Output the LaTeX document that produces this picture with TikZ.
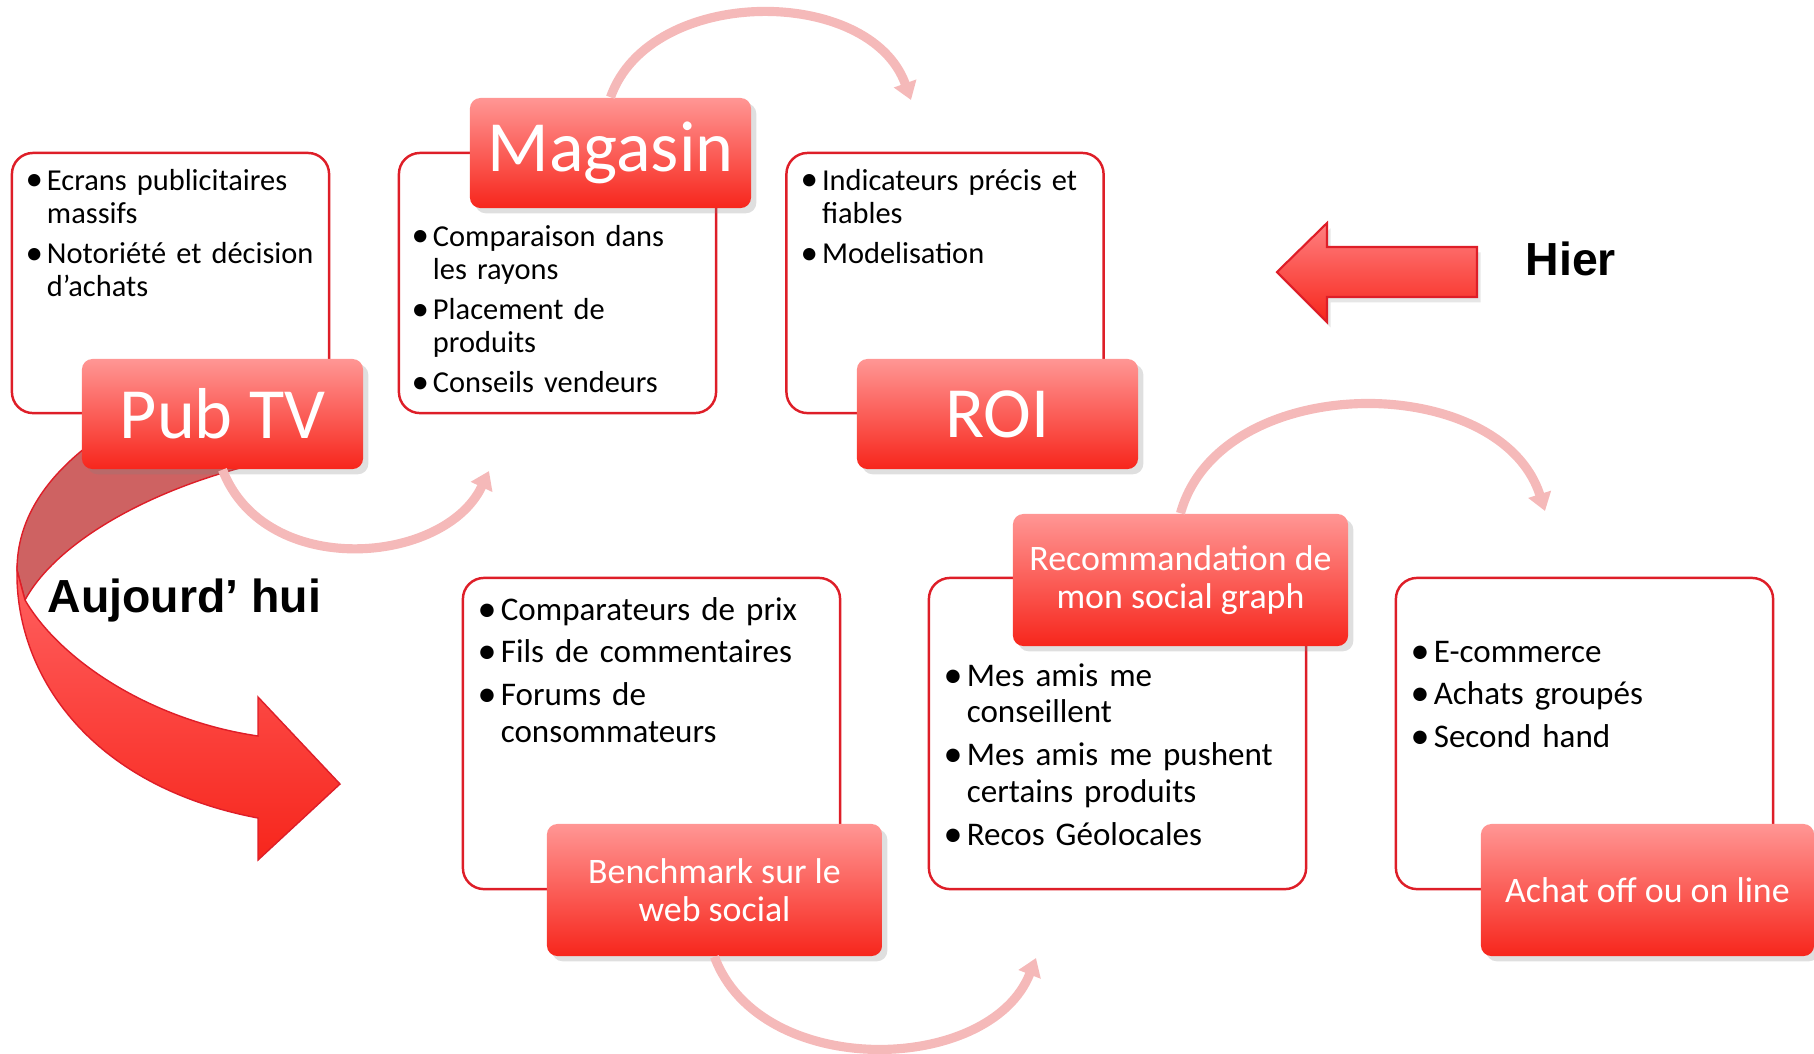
\documentclass[tikz,border=0pt]{standalone}
\usepackage{fontspec}
\setmainfont{Carlito}
\newfontfamily\arialfont{Liberation Sans}
\usetikzlibrary{arrows.meta,shadows}
\definecolor{rougecadre}{RGB}{222,30,40}
\definecolor{haut}{RGB}{255,150,148}
\definecolor{bas}{RGB}{247,38,28}
\definecolor{rose}{RGB}{245,185,185}
\definecolor{revers}{RGB}{206,98,98}
\definecolor{rubanhaut}{RGB}{255,96,96}
\newcommand\puce{\makebox[0.7em][l]{\raisebox{-0.03em}{\scalebox{1.15}{•}}}}
\newcommand\suite{\hspace*{0.7em}}
\begin{document}
\begin{tikzpicture}[x=0.01cm,y=-0.01cm,
    boite/.style={draw=rougecadre,line width=0.7pt,rounded corners=6pt,minimum width=3.17cm,minimum height=2.6cm},
    boiteb/.style={boite,minimum width=3.77cm,minimum height=3.11cm},
    titre/.style={rounded corners=3pt,top color=haut,bottom color=bas,text=white,minimum width=2.81cm,minimum height=1.1cm,
        font=\fontsize{20.5}{24}\selectfont,drop shadow={opacity=0.25,shadow xshift=1.5pt,shadow yshift=-1.5pt}},
    titreb/.style={titre,minimum width=3.35cm,minimum height=1.32cm,align=center,font=\fontsize{10.2}{11}\selectfont},
    pucesh/.style={anchor=base west,inner sep=0pt,text width=3.4cm,align=left,font=\fontsize{8.65}{9.6}\selectfont},
    pucesb/.style={pucesh,font=\fontsize{9.4}{10.5}\selectfont},
    arc/.style={draw=rose,line width=2.6pt,-{Triangle[width=6.5pt,length=5pt]}},
    gras/.style={anchor=base west,inner sep=0pt,font=\arialfont\bfseries\fontsize{13.2}{16}\selectfont}]
    \useasboundingbox (0,0) rectangle (1814,1053);
    \fill[revers,draw=rougecadre,line width=0.4pt] (85,448) .. controls (45,480) and (17,520) .. (17,570) -- (25,600)
        .. controls (55,545) and (140,495) .. (240,468) -- (240,440) -- (90,440) -- cycle;
    \shade[top color=rubanhaut,bottom color=bas,draw=rougecadre,line width=0.4pt] (17,570) .. controls (15,670) and (85,785) .. (258,818)
        -- (258,860) -- (340,784) -- (258,697) -- (258,736) .. controls (150,720) and (60,660) .. (25,600) -- cycle;
    \shade[top color=rubanhaut!80!white,bottom color=bas,draw=rougecadre,line width=0.6pt,drop shadow={opacity=0.2,shadow xshift=1pt,shadow yshift=-1.5pt}]
        (1477,247) -- (1327,247) -- (1327,223) -- (1277,272) -- (1327,322) -- (1327,297) -- (1477,297) -- cycle;
    \node (hier) [gras] at (1525,275) {Hier};
    \node (auj) [gras] at (47,612) {Aujourd’ hui};

    \node (pubL) [boite] at (170.5,283) {};
    \node (magL) [boite] at (557.5,283) {};
    \node (roiL) [boite] at (945,283) {};
    \node (benchL) [boiteb] at (651.5,733.5) {};
    \node (recoL) [boiteb] at (1117.5,733.5) {};
    \node (achatL) [boiteb] at (1584.5,733.5) {};

    \node (pubtxt) [pucesh] at (25,190) {\puce Ecrans publicitaires\\ \suite massifs\\[1.6pt] \puce Notoriété et décision\\ \suite d’achats};
    \node (magtxt) [pucesh] at (411,246) {\puce Comparaison dans\\ \suite les rayons\\[1.6pt] \puce Placement de\\ \suite produits\\[1.6pt] \puce Conseils vendeurs};
    \node (roitxt) [pucesh] at (800,190) {\puce Indicateurs précis et\\ \suite fiables\\[1.6pt] \puce Modelisation};
    \node (benchtxt) [pucesb] at (477,620) {\puce Comparateurs de prix\\[1.7pt] \puce Fils de commentaires\\[1.7pt] \puce Forums de\\ \suite consommateurs};
    \node (recotxt) [pucesb] at (943,686) {\puce Mes amis me\\ \suite conseillent\\[1.7pt] \puce Mes amis me pushent\\ \suite certains produits\\[1.7pt] \puce Recos Géolocales};
    \node (achattxt) [pucesb] at (1410,662) {\puce E-commerce\\[1.7pt] \puce Achats groupés\\[1.7pt] \puce Second hand};

    \node (pub) [titre] at (222.5,414) {Pub TV};
    \node (mag) [titre] at (610.5,153) {Magasin};
    \node (roi) [titre] at (997.5,414) {ROI};
    \node (bench) [titreb] at (714.5,890) {Benchmark sur le\\web social};
    \node (reco) [titreb] at (1180.5,580) {Recommandation de\\mon social graph};
    \node (achat) [titreb,minimum width=3.33cm] at (1647.5,890) {Achat off ou on line};

    \coordinate (f1) at (911,100);
    \coordinate (f2) at (489,471);
    \coordinate (f3) at (1545,511);
    \coordinate (f4) at (1036,958);
    \draw[arc] (mag.north) .. controls (650,-15) and (870,-15) .. (f1);
    \draw[arc] (pub.south) .. controls (265,580) and (445,565) .. (f2);
    \draw[arc] (reco.north) .. controls (1220,370) and (1500,370) .. (f3);
    \draw[arc] (bench.south) .. controls (760,1080) and (990,1075) .. (f4);
\end{tikzpicture}
\end{document}
